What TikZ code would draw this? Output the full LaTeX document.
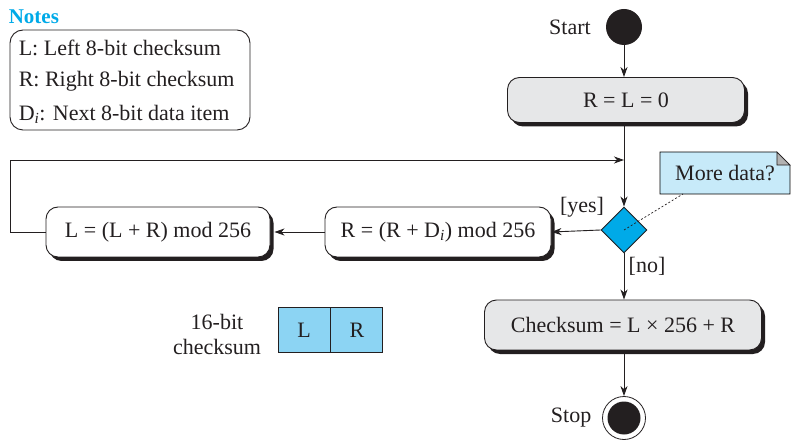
\documentclass[tikz,border=0pt]{standalone}
\usepackage{fontspec}
\setmainfont{Liberation Serif}
\usetikzlibrary{arrows.meta, shapes.geometric, shadows, positioning, backgrounds}

\definecolor{ink}{RGB}{35,31,32}
\definecolor{notecyan}{RGB}{0,170,232}
\definecolor{boxgray}{RGB}{230,231,232}
\definecolor{memofill}{RGB}{199,234,249}
\definecolor{fieldblue}{RGB}{140,212,243}

\begin{document}
\begin{tikzpicture}[x=1pt, y=-1pt, line width=0.9pt, draw=ink, text=ink,
  font=\fontsize{22}{25}\selectfont,
  arr/.style={-{Stealth[length=10pt,width=7pt,inset=3pt]}},
  action/.style={draw, rounded corners=12pt, minimum height=50pt,
    drop shadow={shadow xshift=3.5pt, shadow yshift=-4pt, fill=ink, opacity=1}},
  decision/.style={diamond, draw, fill=notecyan, minimum size=46pt, inner sep=0pt},
  startnode/.style={circle, fill=ink, minimum size=36pt, inner sep=0pt},
  stopnode/.style={circle, draw, line width=0.8pt, minimum size=43pt, inner sep=0pt,
    path picture={\fill[ink] (path picture bounding box.center) circle (16.5pt);}},
  field/.style={draw, fill=fieldblue, minimum width=52pt, minimum height=45pt, inner sep=0pt}]
  \useasboundingbox (0,0) rectangle (792,443);

  % notes
  \node[anchor=west, text=notecyan, font=\fontsize{21}{25}\selectfont\bfseries] (title) at (5,17) {Notes};
  \draw[rounded corners=13pt] (10,30) rectangle (250,130);
  \node[anchor=west] (nl) at (15,48) {L: Left 8-bit checksum};
  \node[anchor=west] (nr) at (15,81) {R: Right 8-bit checksum};
  \node[anchor=west] (nd) at (15,114) {D\textsubscript{\textit{i}}: Next 8-bit data item};

  % flow
  \node[startnode] (start) at (624,27) {};
  \node[left=11pt of start] (startlbl) {Start};
  \node[action, fill=boxgray, minimum width=237pt, minimum height=45pt] (init) at (626,100) {R = L = 0};
  \node[decision] (test) at (624,230) {};
  \node[action, fill=white, minimum width=226pt] (addr) at (438,232) {R = (R + D\textsubscript{\textit{i}}) mod 256};
  \node[action, fill=white, minimum width=224pt] (addl) at (158,232) {L = (L + R) mod 256};
  \node[action, fill=boxgray, minimum width=277pt] (sum) at (623,325) {Checksum = L × 256 + R};
  \node[stopnode] (stop) at (624,418) {};
  \node[left=7pt of stop] (stoplbl) {Stop};
  \coordinate (loopin) at (624,160);
  \coordinate (loopcorner) at (10,160);

  % connectors
  \draw[arr] (start.south) -- (start |- init.north);
  \draw[arr] (start |- init.south) -- (test.north);
  \draw[arr] (test.west) -- (addr.east);
  \draw[arr] (addr.west) -- ([xshift=4pt]addl.east);
  \draw[arr] (addl.west) -| (loopcorner) -- (loopin);
  \draw[arr] (test.south) -- (test |- sum.north);
  \draw[arr] (stop |- sum.south) -- (stop.north);
  \node (yes) at (582,207) {[yes]};
  \node (no) at (647,266) {[no]};

  % comment
  \node[minimum width=129pt, minimum height=41pt, inner sep=0pt] (memo) at (725,173) {More data?};
  \begin{scope}[on background layer]
    \filldraw[fill=memofill, line width=0.8pt] (memo.south west) -- (memo.north west)
      -- ([xshift=-13pt]memo.north east) -- ([yshift=-13pt]memo.north east)
      -- (memo.south east) -- cycle;
  \end{scope}
  \filldraw[fill=black!30, line width=0.8pt] ([xshift=-13pt]memo.north east)
    -- ([xshift=-13pt,yshift=-13pt]memo.north east) -- ([yshift=-13pt]memo.north east) -- cycle;
  \draw[line width=0.7pt, dash pattern=on 2pt off 2pt] (test.center) -- ([xshift=-42pt]memo.south);

  % 16-bit checksum
  \node[align=center, inner sep=0pt] (cslbl) at (217,334) {16-bit\\checksum};
  \node[field] (fl) at (304,330) {L};
  \node[field, right=0pt of fl] (fr) {R};
\end{tikzpicture}
\end{document}
